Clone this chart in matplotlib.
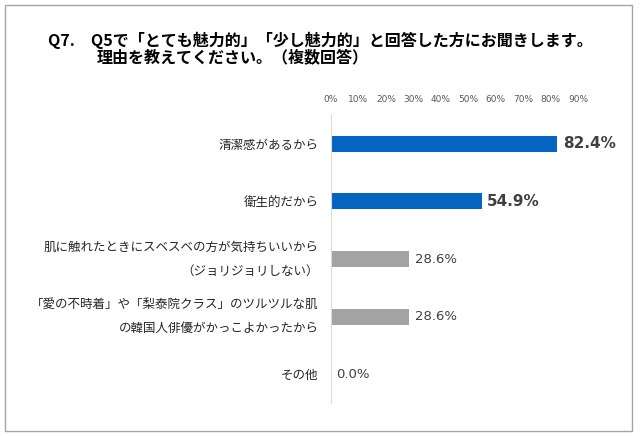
import matplotlib
matplotlib.use("Agg")
import matplotlib.pyplot as plt
from matplotlib.patches import Rectangle
from matplotlib.ticker import PercentFormatter
from matplotlib.transforms import ScaledTranslation

plt.rcParams['font.family'] = ['Noto Sans CJK JP', 'DejaVu Sans']

categories = [
    "清潔感があるから",
    "衛生的だから",
    "肌に触れたときにスベスベの方が気持ちいいから\n（ジョリジョリしない）",
    "「愛の不時着」や「梨泰院クラス」のツルツルな肌\nの韓国人俳優がかっこよかったから",
    "その他",
]
values = [82.4, 54.9, 28.6, 28.6, 0.0]
highlight = [True, True, False, False, False]
tick_values = [0, 10, 20, 30, 40, 50, 60, 70, 80, 90]
title_line1 = "Q7.　Q5で「とても魅力的」「少し魅力的」と回答した方にお聞きします。"
title_line2 = "理由を教えてください。（複数回答）"

blue = "#0563C1"
gray = "#A3A3A3"

fig = plt.figure(figsize=(6.4, 4.36), dpi=100)
fig.patch.set_facecolor("white")
fig.add_artist(Rectangle((5/640, 1 - 431/436), 627/640, 426/436,
                         transform=fig.transFigure, fill=False,
                         edgecolor="#A6A6A6", linewidth=1.0))

ax = fig.add_axes([331/640, 1 - 403/436, (578 - 331)/640, (403 - 115)/436])
ypos = list(range(len(categories)))
colors = [blue if h else gray for h in highlight]
ax.barh(ypos, values, height=0.28, color=colors)
ax.set_xlim(0, 90)
ax.set_ylim(len(categories) - 0.5, -0.5)
ax.set_xticks(tick_values)
ax.xaxis.set_major_formatter(PercentFormatter(decimals=0))
ax.xaxis.tick_top()
for lab in ax.get_xticklabels():
    lab.set_fontfamily(['DejaVu Sans'])
ax.tick_params(axis='x', length=0, labelsize=6.5, labelcolor="#595959", pad=8)
ax.set_yticks(ypos)
ax.set_yticklabels(categories, fontsize=9, color="#262626", linespacing=2.1)
ax.tick_params(axis='y', length=0, pad=9)
for lab, cat in zip(ax.get_yticklabels(), categories):
    if "\n" in cat:
        lab.set_transform(lab.get_transform() +
                          ScaledTranslation(0, 7/100, fig.dpi_scale_trans))
for s in ["top", "right", "bottom"]:
    ax.spines[s].set_visible(False)
ax.spines["left"].set_color("#D9D9D9")
ax.spines["left"].set_linewidth(0.8)

for y, v, h in zip(ypos, values, highlight):
    if h:
        ax.annotate(f"{v:.1f}%", (v, y), xytext=(4, 0), textcoords="offset points",
                    va="center", ha="left", fontsize=11, fontweight="bold",
                    color="#404040", family=['DejaVu Sans'])
    else:
        ax.annotate(f"{v:.1f}%", (v, y), xytext=(4, 0), textcoords="offset points",
                    va="center", ha="left", fontsize=9.5,
                    color="#404040", family=['DejaVu Sans'])

fig.text(48/640, 1 - 40/436, title_line1, fontsize=11.55, fontweight="bold",
         va="center", ha="left", color="black")
fig.text(97/640, 1 - 57/436, title_line2, fontsize=11.55, fontweight="bold",
         va="center", ha="left", color="black")

fig.savefig("out.png", dpi=100)
